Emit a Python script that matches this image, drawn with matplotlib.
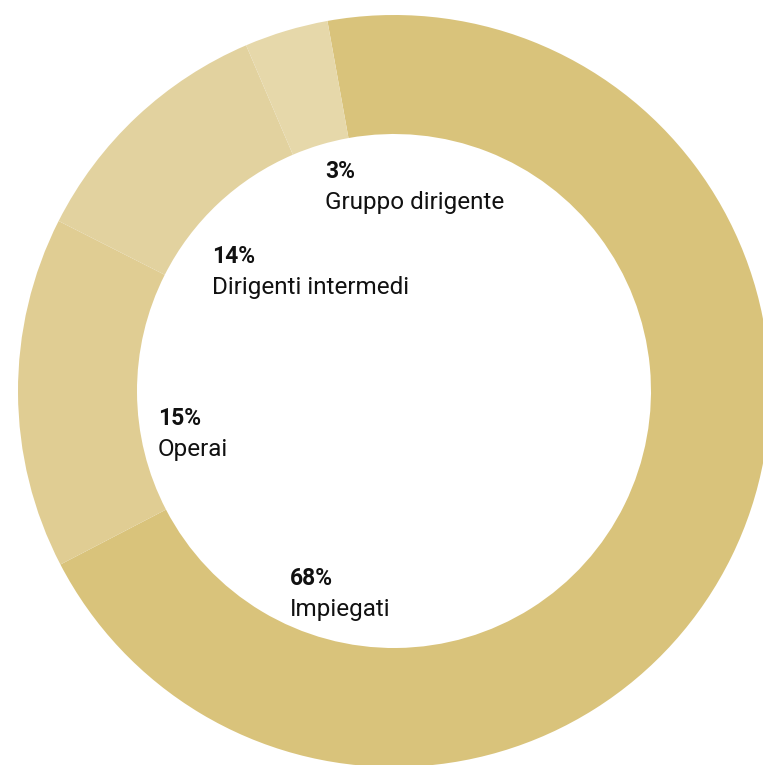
import matplotlib.pyplot as plt

# arc shares as drawn (clockwise from just left of 12 o'clock)
categories = ["Impiegati", "Operai", "Dirigenti intermedi", "Gruppo dirigente"]
shares = [70.2, 15.1, 11.1, 3.6]
pct_labels = ["68%", "15%", "14%", "3%"]
colors = ["#D9C37B", "#E0CD93", "#E2D29F", "#E6D8AA"]

# label anchor (left x, baseline y) in pixels from top-left
label_pos = [(290, 585), (158, 425), (212, 263), (325, 178)]

W, H = 763, 765
fig = plt.figure(figsize=(W / 100, H / 100), dpi=100)
ax = fig.add_axes([0, 0, 1, 1])

cx, cy = 394, H - 391
r_out, r_in = 376, 257
ax.pie(shares, colors=colors, startangle=100.2, counterclock=False,
       center=(cx, cy), radius=r_out, frame=True,
       wedgeprops=dict(width=r_out - r_in, linewidth=0))
ax.set_xlim(0, W)
ax.set_ylim(0, H)
ax.set_aspect("equal")
ax.axis("off")

for name, pct, (x, y) in zip(categories, pct_labels, label_pos):
    ax.text(x, H - y, pct, fontsize=16.5, fontweight="bold", family="Roboto",
            color="#111111", ha="left", va="baseline")
    ax.text(x, H - y - 31, name, fontsize=17.5, family="Roboto",
            color="#111111", ha="left", va="baseline")

fig.savefig("out.png", dpi=100)
